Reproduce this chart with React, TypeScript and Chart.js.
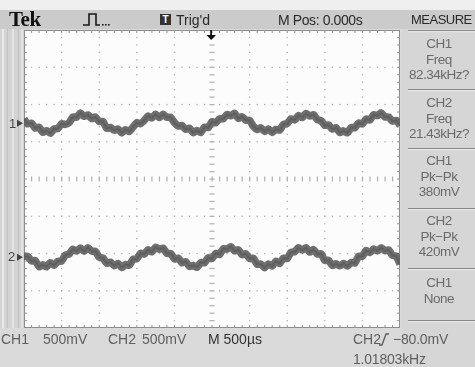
import React, { useEffect, useRef } from "react";
import { Chart, registerables } from "chart.js";

Chart.register(...registerables);

// Sample times (µs), trigger at centre (M Pos 0.000s)
const sampleTimesUs = [
  -2500, -2450, -2400, -2350, -2300, -2250, -2200, -2150, -2100, -2050,
  -2000, -1950, -1900, -1850, -1800, -1750, -1700, -1650, -1600, -1550,
  -1500, -1450, -1400, -1350, -1300, -1250, -1200, -1150, -1100, -1050,
  -1000, -950, -900, -850, -800, -750, -700, -650, -600, -550,
  -500, -450, -400, -350, -300, -250, -200, -150, -100, -50,
  0, 50, 100, 150, 200, 250, 300, 350, 400, 450,
  500, 550, 600, 650, 700, 750, 800, 850, 900, 950,
  1000, 1050, 1100, 1150, 1200, 1250, 1300, 1350, 1400, 1450,
  1500, 1550, 1600, 1650, 1700, 1750, 1800, 1850, 1900, 1950,
  2000, 2050, 2100, 2150, 2200, 2250, 2300, 2350, 2400, 2450,
  2500,
];

// CH1 trace (mV relative to its ground marker)
const ch1mV = [
  55, -9, -1, -67, -54, -124, -102, -136, -77, -73,
  -9, -17, 6, 83, 80, 137, 91, 110, 61, 81,
  21, 21, -69, -58, -95, -79, -131, -88, -113, -53,
  5, -7, 36, 95, 70, 119, 76, 119, 78, 79,
  8, -38, -32, -83, -69, -129, -99, -125, -55, -60,
  18, 4, 58, 58, 117, 99, 132, 63, 85, 41,
  36, -42, -85, -63, -111, -80, -125, -84, -94, -18,
  -5, 57, 43, 101, 75, 130, 95, 114, 48, 33,
  -30, -24, -80, -62, -125, -104, -131, -61, -62, 2,
  -10, 55, 42, 113, 101, 138, 83, 81, 27, 37,
  -29,
];

// CH2 trace (mV relative to its ground marker)
const ch2mV = [
  11, 10, -49, -46, -128, -102, -129, -73, -109, -55,
  -52, 29, 41, 108, 83, 124, 81, 127, 81, 79,
  0, -11, -81, -66, -115, -83, -137, -98, -108, -27,
  -21, 52, 43, 99, 72, 134, 108, 122, 52, 50,
  -23, -13, -75, -59, -124, -110, -136, -72, -75, -7,
  -18, 50, 37, 114, 107, 142, 85, 100, 33, 46,
  -17, -13, -94, -92, -140, -91, -119, -53, -83, -14,
  -18, 66, 74, 127, 96, 128, 69, 103, 44, 46,
  -42, -43, -110, -89, -115, -85, -119, -70, -79, 12,
  14, 91, 64, 111, 86, 128, 88, 97, 24, 16,
  -95,
];

const ch1OffsetDiv = 1.5;
const ch2OffsetDiv = -2.1;
const mVPerDiv = 500;
const timeMinUs = -2500;
const timeMaxUs = 2500;
const divMin = -4;
const divMax = 4;

const measureGroups = [
  { lines: ["CH1", "Freq", "82.34kHz?"] },
  { lines: ["CH2", "Freq", "21.43kHz?"] },
  { lines: ["CH1", "Pk\u2212Pk", "380mV"] },
  { lines: ["CH2", "Pk\u2212Pk", "420mV"] },
  { lines: ["CH1", "None"] },
];

const W = 475;
const H = 367;
const SANS = "'Liberation Sans', Arial, Helvetica, sans-serif";
const separatorsY = [30, 89, 148, 208, 268, 320];

const scopePlugin = {
  id: "scopeScreen",
  beforeDraw(chart: any) {
    const ctx = chart.ctx as CanvasRenderingContext2D;
    const a = chart.chartArea;
    ctx.save();
    ctx.fillStyle = "#dadada";
    ctx.fillRect(0, 0, W, H);
    ctx.fillStyle = "#efefef";
    ctx.fillRect(0, 0, W, 10);
    ctx.fillStyle = "#cbcbcb";
    ctx.fillRect(0, 10, W, 19);
    // left strip
    ctx.fillStyle = "#d3d3d3";
    ctx.fillRect(0, 29, a.left, a.bottom - 29);
    const stripes: [number, string, number][] = [
      [2, "#e9e9e9", 2], [7, "#c2c2c2", 1], [12, "#e4e4e4", 2], [18, "#c0c0c0", 1], [21, "#e2e2e2", 2],
    ];
    stripes.forEach(([x, c, w]) => { ctx.fillStyle = c; ctx.fillRect(x, 29, w, a.bottom - 29); });
    // measure panel
    ctx.fillStyle = "#d6d6d6";
    ctx.fillRect(a.right + 2, 29, W - a.right - 2, H - 29);
    // graticule
    ctx.fillStyle = "#fcfcfc";
    ctx.fillRect(a.left, a.top, a.right - a.left, a.bottom - a.top);
    const w = a.right - a.left;
    const h = a.bottom - a.top;
    ctx.fillStyle = "#b0b0b0";
    for (let i = 1; i < 10; i++) {
      const x = a.left + (i * w) / 10;
      for (let k = 1; k < 40; k++) {
        const y = a.top + (k * h) / 40;
        if (i === 5) ctx.fillRect(x - 2.5, y - 0.5, 5, 1.2);
        else ctx.fillRect(x - 0.6, y - 0.6, 1.3, 1.3);
      }
    }
    for (let j = 1; j < 8; j++) {
      const y = a.top + (j * h) / 8;
      for (let k = 1; k < 50; k++) {
        const x = a.left + (k * w) / 50;
        if (j === 4) ctx.fillRect(x - 0.5, y - 2.5, 1.2, 5);
        else ctx.fillRect(x - 0.6, y - 0.6, 1.3, 1.3);
      }
    }
    // border + edge ticks
    ctx.strokeStyle = "#8c8c8c";
    ctx.lineWidth = 1;
    ctx.strokeRect(a.left + 0.5, a.top + 0.5, w - 1, h - 1);
    ctx.fillStyle = "#9a9a9a";
    for (let k = 1; k < 50; k++) {
      const x = a.left + (k * w) / 50;
      ctx.fillRect(x - 0.5, a.top, 1.1, 3);
      ctx.fillRect(x - 0.5, a.bottom - 3, 1.1, 3);
    }
    for (let k = 1; k < 40; k++) {
      const y = a.top + (k * h) / 40;
      ctx.fillRect(a.left, y - 0.5, 3, 1.1);
      ctx.fillRect(a.right - 3, y - 0.5, 3, 1.1);
    }
    // measure separators
    ctx.fillStyle = "#8a8a8a";
    separatorsY.forEach((y) => ctx.fillRect(408, y, W - 408, 1.2));
    ctx.fillStyle = "#eeeeee";
    separatorsY.forEach((y) => ctx.fillRect(408, y + 1.2, W - 408, 1));
    // pulse icon
    ctx.strokeStyle = "#1a1a1a";
    ctx.lineWidth = 1.6;
    ctx.beginPath();
    ctx.moveTo(83, 25); ctx.lineTo(89, 25); ctx.lineTo(89, 14); ctx.lineTo(96, 14); ctx.lineTo(96, 25); ctx.lineTo(100, 25);
    ctx.stroke();
    ctx.fillStyle = "#1a1a1a";
    [102, 105, 108].forEach((x) => ctx.fillRect(x, 24, 1.6, 1.6));
    // trigger arrow at top centre
    const cx = a.left + w / 2 - 1;
    ctx.fillStyle = "#111";
    ctx.fillRect(cx - 0.8, a.top, 1.8, 6);
    ctx.beginPath();
    ctx.moveTo(cx - 4.5, a.top + 5); ctx.lineTo(cx + 5, a.top + 5); ctx.lineTo(cx + 0.2, a.top + 10); ctx.closePath();
    ctx.fill();
    // channel ground arrows
    const ys = chart.scales.y;
    [ch1OffsetDiv, ch2OffsetDiv].forEach((off) => {
      const y = ys.getPixelForValue(off);
      ctx.fillStyle = "#444";
      ctx.beginPath();
      ctx.moveTo(17, y - 3.5); ctx.lineTo(23, y); ctx.lineTo(17, y + 3.5); ctx.closePath();
      ctx.fill();
    });
    // trigger slope icon
    ctx.strokeStyle = "#5a5a5a";
    ctx.lineWidth = 1.3;
    ctx.beginPath();
    ctx.moveTo(379, 345); ctx.lineTo(382, 345); ctx.lineTo(386, 334); ctx.lineTo(389, 334);
    ctx.stroke();
    ctx.restore();
  },
};

type Txt = { t: string; x: number; cy: number; size?: number; color?: string; weight?: string; family?: string; center?: boolean; ls?: number };

const texts: Txt[] = [
  { t: "Tek", x: 9, cy: 19, size: 21, color: "#111", weight: "bold", family: "'Liberation Serif', 'DejaVu Serif', serif", ls: -0.5 },
  { t: "Trig'd", x: 176, cy: 20, size: 14, color: "#2a2a2a" },
  { t: "M Pos: 0.000s", x: 278, cy: 20, size: 14, color: "#2a2a2a", ls: -0.4 },
  { t: "MEASURE", x: 411, cy: 20, size: 13, color: "#2a2a2a", ls: -0.5 },
  { t: "CH1", x: 1, cy: 339, size: 14, color: "#5f5f5f" },
  { t: "500mV", x: 43, cy: 339, size: 14, color: "#5f5f5f" },
  { t: "CH2", x: 108, cy: 339, size: 14, color: "#5f5f5f" },
  { t: "500mV", x: 142, cy: 339, size: 14, color: "#5f5f5f" },
  { t: "M 500\u00b5s", x: 208, cy: 339, size: 14, color: "#333" },
  { t: "CH2", x: 353, cy: 339, size: 14, color: "#5f5f5f" },
  { t: "\u221280.0mV", x: 393, cy: 339, size: 14, color: "#5f5f5f", ls: -0.2 },
  { t: "1.01803kHz", x: 353, cy: 359, size: 14, color: "#5f5f5f", ls: -0.2 },
  { t: "1", x: 9, cy: 124, size: 13, color: "#444" },
  { t: "2", x: 8, cy: 257, size: 13, color: "#444" },
];

const groupStarts = [44, 103, 161, 221, 283];
const lineStep = 15.5;

export default function App() {
  const canvasRef = useRef<HTMLCanvasElement | null>(null);

  useEffect(() => {
    document.body.style.margin = "0";
    const canvas = canvasRef.current;
    if (!canvas) return;
    const toPoints = (vals: number[], off: number) =>
      sampleTimesUs.map((t, i) => ({ x: t, y: off + vals[i] / mVPerDiv }));
    const band = (label: string, vals: number[], off: number) => ({
      label: label + " band",
      data: toPoints(vals, off),
      borderColor: "rgba(98,98,98,0.92)",
      borderWidth: 7.5,
      pointRadius: 0,
      tension: 0.2,
      borderJoinStyle: "round",
    });
    const core = (label: string, vals: number[], off: number) => ({
      label,
      data: toPoints(vals, off),
      borderColor: "#3c3c3c",
      borderWidth: 2,
      pointRadius: 0,
      tension: 0,
      borderJoinStyle: "miter",
    });
    const chart = new Chart(canvas, {
      type: "line",
      data: {
        datasets: [
          band("CH1", ch1mV, ch1OffsetDiv),
          core("CH1", ch1mV, ch1OffsetDiv),
          band("CH2", ch2mV, ch2OffsetDiv),
          core("CH2", ch2mV, ch2OffsetDiv),
        ],
      },
      options: {
        animation: false,
        responsive: false,
        devicePixelRatio: 1,
        layout: { padding: { left: 24, top: 30, right: W - 400, bottom: H - 328 } },
        plugins: { legend: { display: false }, tooltip: { enabled: false }, title: { display: false } },
        scales: {
          x: { type: "linear", min: timeMinUs, max: timeMaxUs, display: false },
          y: { type: "linear", min: divMin, max: divMax, display: false },
        },
      },
      plugins: [scopePlugin],
    } as any);
    return () => chart.destroy();
  }, []);

  const baseText = (s: Txt): React.CSSProperties => ({
    position: "absolute",
    left: s.x,
    top: s.cy - 9,
    height: 18,
    lineHeight: "18px",
    fontSize: s.size ?? 14,
    fontFamily: s.family ?? SANS,
    fontWeight: (s.weight as any) ?? "normal",
    color: s.color ?? "#333",
    letterSpacing: s.ls ?? 0,
    whiteSpace: "nowrap",
  });

  return (
    <div style={{ position: "relative", width: W, height: H, overflow: "hidden" }}>
      <canvas ref={canvasRef} width={W} height={H} style={{ position: "absolute", left: 0, top: 0, width: W, height: H }} />
      <div
        style={{
          position: "absolute", left: 160, top: 14, width: 11, height: 11, background: "#333",
          color: "#fff", fontFamily: SANS, fontWeight: "bold", fontSize: 10, lineHeight: "11px", textAlign: "center",
        }}
      >
        T
      </div>
      {texts.map((s, i) => (
        <div key={i} style={baseText(s)}>{s.t}</div>
      ))}
      {measureGroups.map((g, gi) =>
        g.lines.map((ln, li) => (
          <div
            key={gi + "-" + li}
            style={{
              position: "absolute", left: 403, width: 72, top: groupStarts[gi] + li * lineStep - 9, height: 18,
              lineHeight: "18px", textAlign: "center", fontFamily: SANS, fontSize: 13.5, color: "#6a6a6a",
              letterSpacing: -0.5, whiteSpace: "nowrap",
            }}
          >
            {ln}
          </div>
        ))
      )}
    </div>
  );
}
